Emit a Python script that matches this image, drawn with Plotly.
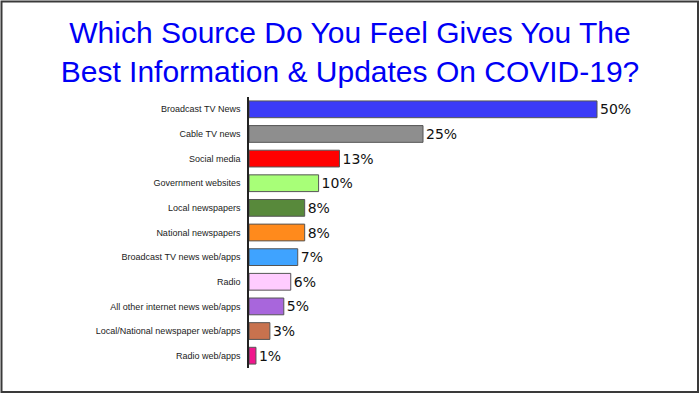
import plotly.graph_objects as go

categories = ["Broadcast TV News", "Cable TV news", "Social media", "Government websites",
              "Local newspapers", "National newspapers", "Broadcast TV news web/apps", "Radio",
              "All other internet news web/apps", "Local/National newspaper web/apps", "Radio web/apps"]
values = [50, 25, 13, 10, 8, 8, 7, 6, 5, 3, 1]
value_labels = ["50%", "25%", "13%", "10%", "8%", "8%", "7%", "6%", "5%", "3%", "1%"]
colors = ["#3B3BF7", "#8E8E8E", "#FF0000", "#A8FF78", "#58893B", "#FF8A1C",
          "#3FA3FF", "#FFCCFF", "#A866DC", "#C8724E", "#F0168C"]

W, H = 700, 394
L, R, T, B = 249, 40, 97, 26

fig = go.Figure()
fig.add_trace(go.Bar(
    y=categories, x=values, orientation="h",
    marker=dict(color=colors, line=dict(color="#555555", width=1)),
    width=0.68,
    text=value_labels, textposition="outside", cliponaxis=False,
    textfont=dict(family="DejaVu Sans", size=14, color="#111111"),
    hoverinfo="skip",
))

fig.update_layout(
    width=W, height=H,
    margin=dict(l=L, r=R, t=T, b=B, pad=0),
    paper_bgcolor="white", plot_bgcolor="white",
    showlegend=False,
    title=dict(
        text="Which Source Do You Feel Gives You The<br>Best Information &amp; Updates On COVID-19?",
        x=0.5, xref="container", xanchor="center",
        y=1 - 43 / H, yref="container", yanchor="middle",
        font=dict(family="Liberation Sans, Arial, sans-serif", size=30, color="#0000F5"),
    ),
    xaxis=dict(range=[0, 59.05], visible=False, fixedrange=True),
    yaxis=dict(autorange="reversed", showline=True, linecolor="#222222", linewidth=1.5,
               ticks="", showgrid=False, ticksuffix="  ", fixedrange=True,
               tickfont=dict(family="Liberation Sans, Arial, sans-serif", size=9, color="#222222")),
    bargap=0.32,
)

# slide frame (pixel positions converted to paper fractions)
pw = W - L - R
ph = H - T - B
def px_x(x):
    return (x - L) / pw
def px_y(y):
    return (H - y - B) / ph
fig.add_shape(type="rect", xref="paper", yref="paper",
              x0=px_x(1.5), x1=px_x(W - 2),
              y0=px_y(H - 2), y1=px_y(1.5),
              line=dict(color="#3a3a3a", width=2), fillcolor="rgba(0,0,0,0)", layer="above")

fig.write_html("out.html", config={"displayModeBar": False},
               post_script="document.body.style.margin='0';")
